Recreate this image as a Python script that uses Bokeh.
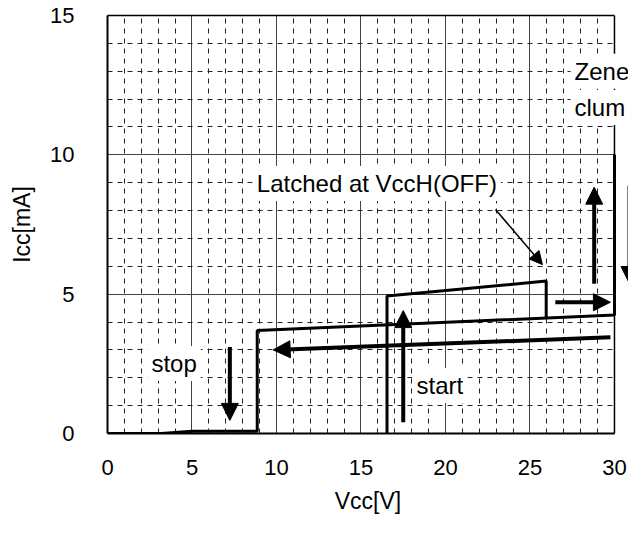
from bokeh.plotting import figure
from bokeh.models import (Range1d, SingleIntervalTicker, Arrow, NormalHead, Label,
                          ColumnDataSource, BoxAnnotation, Span, LinearAxis, FixedTicker)
from bokeh.embed import file_html
from bokeh.resources import INLINE

# ---- data ----
stop_vcc = [0.0, 3.2, 5.0, 8.86, 8.86, 30.0, 30.0]
stop_icc = [0.0, 0.0, 0.08, 0.08, 3.70, 4.25, 10.0]

start_vcc = [16.54, 16.54, 25.96, 25.96]
start_icc = [0.0, 4.93, 5.47, 4.15]

arrow_vcc_from = [7.24, 29.76, 17.5, 26.5, 28.8, 30.89]
arrow_icc_from = [3.10, 3.45, 0.40, 4.71, 5.37, 8.90]
arrow_vcc_to = [7.24, 9.80, 17.5, 29.76, 28.8, 30.89]
arrow_icc_to = [0.47, 3.00, 4.41, 4.71, 8.84, 5.38]

latch_vcc = [22.96, 25.74]
latch_icc = [8.04, 6.06]

x_min, x_max, x_view_max = 0, 30, 30.83
y_min, y_max = 0, 15

FONT = "Liberation Sans"

p = figure(width=628, height=535, output_backend="svg", toolbar_location=None,
           x_range=Range1d(x_min, x_view_max), y_range=Range1d(y_min, y_max),
           min_border_left=107, min_border_right=0, min_border_top=15,
           min_border_bottom=102)
p.background_fill_color = "white"
p.border_fill_color = "white"
p.outline_line_color = None

p.xaxis.ticker = SingleIntervalTicker(interval=5, num_minor_ticks=5)
p.yaxis.ticker = SingleIntervalTicker(interval=5, num_minor_ticks=5)
p.xaxis.bounds = (x_min, x_max)
for ax in (p.xaxis, p.yaxis):
    ax.major_tick_line_color = None
    ax.minor_tick_line_color = None
    ax.axis_line_color = "black"
    ax.axis_line_width = 2
    ax.major_label_text_font = FONT
    ax.major_label_text_font_size = "22px"
    ax.major_label_text_color = "black"
    ax.axis_label_text_font = FONT
    ax.axis_label_text_font_size = "23px"
    ax.axis_label_text_font_style = "normal"
    ax.axis_label_text_color = "black"
p.xaxis.axis_label = "Vcc[V]"
p.yaxis.axis_label = "Icc[mA]"
p.xaxis.major_label_standoff = 20
p.xaxis.axis_label_standoff = 10
p.yaxis.major_label_standoff = 27
p.yaxis.axis_label_standoff = 12

# top border as a bare axis limited to the plotted Vcc range
top = LinearAxis(bounds=(x_min, x_max), ticker=FixedTicker(ticks=[]),
                 major_tick_line_color=None, minor_tick_line_color=None,
                 axis_line_color="black", axis_line_width=1.5)
p.add_layout(top, "above")

for g in (p.xgrid, p.ygrid):
    g.grid_line_color = "#444444"
    g.grid_line_width = 1
    g.minor_grid_line_color = "#222222"
    g.minor_grid_line_width = 1
    g.minor_grid_line_dash = "5 5"

# blank the strip to the right of Vcc = 30 (outside the chart area)
p.add_layout(BoxAnnotation(left=x_max + 0.05, fill_color="white", fill_alpha=1,
                           line_color=None, level="underlay"))

p.line(stop_vcc, stop_icc, line_color="black", line_width=3)
p.line(start_vcc, start_icc, line_color="black", line_width=3)

# right border
p.add_layout(Span(location=x_max, dimension="height", line_color="black", line_width=1.5))

src = ColumnDataSource(dict(x0=arrow_vcc_from, y0=arrow_icc_from,
                            x1=arrow_vcc_to, y1=arrow_icc_to))
p.add_layout(Arrow(source=src, x_start="x0", y_start="y0", x_end="x1", y_end="y1",
                   line_color="black", line_width=4,
                   end=NormalHead(size=17, fill_color="black", line_color="black")))
p.add_layout(Arrow(x_start=latch_vcc[0], y_start=latch_icc[0],
                   x_end=latch_vcc[1], y_end=latch_icc[1],
                   line_color="black", line_width=1.5,
                   end=NormalHead(size=13, fill_color="black", line_color="black")))

def lab(x, y, t):
    p.add_layout(Label(x=x, y=y, text=t, text_font=FONT, text_font_size="24px",
                       text_color="black", text_baseline="middle", text_align="left",
                       background_fill_color="white", padding=4))

lab(8.6, 8.97, "Latched at VccH(OFF)")
lab(2.36, 2.51, "stop")
lab(18.05, 1.72, "start")
lab(27.4, 13.0, "Zene")
lab(27.4, 11.7, "clum")

open("out.html", "w").write(file_html(p, INLINE))
